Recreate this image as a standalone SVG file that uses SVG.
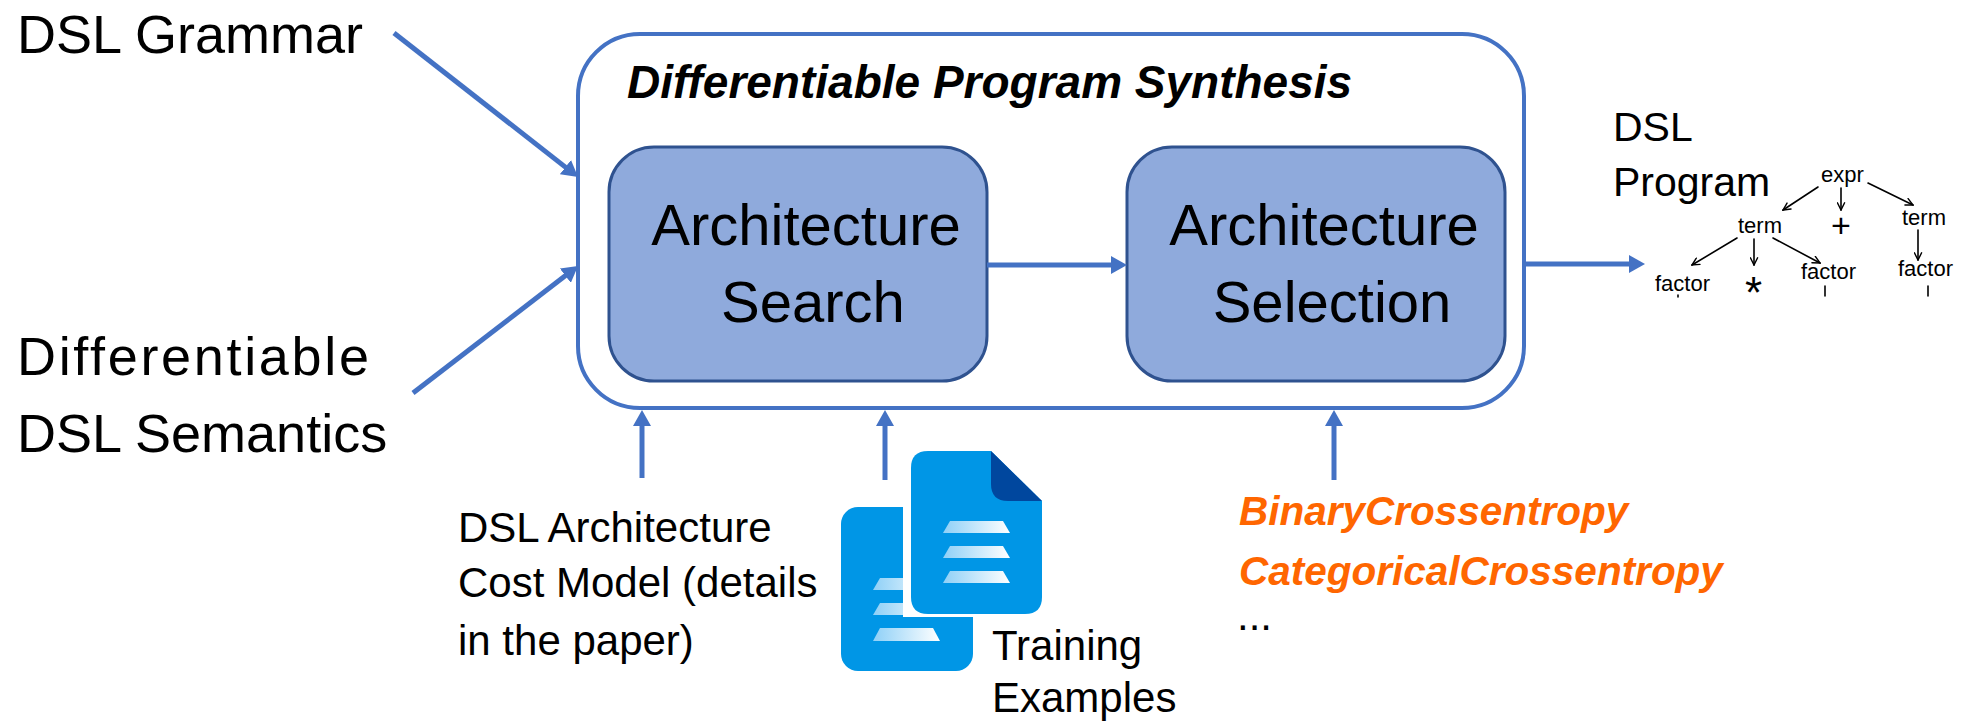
<svg xmlns="http://www.w3.org/2000/svg" width="1967" height="721" viewBox="0 0 1967 721">
  <style>
    .lbl { font-family: "Liberation Sans", Arial, sans-serif; fill: #000; }
    .big { font-size: 54px; }
    .box-text { font-size: 58px; text-anchor: middle; }
    .small { font-size: 42px; }
    .title { font-size: 46px; font-weight: bold; font-style: italic; }
    .loss { font-family: "Liberation Sans", Arial, sans-serif; font-size: 40.5px; font-weight: bold; font-style: italic; fill: #FF6600; }
    .hand { font-family: "Liberation Sans", Arial, sans-serif; font-size: 22px; fill: #000; }
    .hand.plus { font-size: 34px; }
    .hand.star { font-size: 44px; }
    .conn { stroke: #4472C4; stroke-width: 5; fill: none; marker-end: url(#arrow); }
    .tree { stroke: #000; stroke-width: 1.6; fill: none; stroke-linecap: round; marker-end: url(#tip); }
    .stage { fill: #8FAADC; stroke: #2F528F; stroke-width: 3; }
    .doc { fill: #0096E6; }
    .fold { fill: #00479E; }
  </style>
  <defs>
    <marker id="arrow" viewBox="0 0 16 18" refX="4" refY="9" markerWidth="16" markerHeight="18" markerUnits="userSpaceOnUse" orient="auto">
      <path d="M0,0 L16,9 L0,18 z" fill="#4472C4"/>
    </marker>
    <marker id="tip" viewBox="0 0 10 10" refX="9" refY="5" markerWidth="9" markerHeight="9" markerUnits="userSpaceOnUse" orient="auto">
      <path d="M1,1 L9,5 L1,9" fill="none" stroke="#000" stroke-width="1.6" stroke-linecap="round"/>
    </marker>
    <linearGradient id="bar" x1="0" y1="0" x2="1" y2="0">
      <stop offset="0" stop-color="#8ED0F7"/>
      <stop offset="1" stop-color="#FFFFFF"/>
    </linearGradient>
  </defs>

  <!-- inputs -->
  <g id="grammar">
    <text class="lbl big" x="17" y="53">DSL Grammar</text>
  </g>
  <g id="semantics">
    <text class="lbl big" x="17" y="375" textLength="352" lengthAdjust="spacing">Differentiable</text>
    <text class="lbl big" x="17" y="452">DSL Semantics</text>
  </g>

  <!-- synthesis container -->
  <g id="synthesis">
    <rect x="578" y="34" width="946" height="374" rx="62" ry="62" fill="#fff" stroke="#4472C4" stroke-width="4"/>
    <text class="lbl title" x="627" y="98">Differentiable Program Synthesis</text>
  </g>

  <g id="search">
    <rect class="stage" x="609" y="147" width="378" height="234" rx="45" ry="45"/>
    <text class="lbl box-text" x="806" y="245">Architecture</text>
    <text class="lbl box-text" x="813" y="322">Search</text>
  </g>

  <g id="selection">
    <rect class="stage" x="1127" y="147" width="378" height="234" rx="45" ry="45"/>
    <text class="lbl box-text" x="1324" y="245">Architecture</text>
    <text class="lbl box-text" x="1332" y="322">Selection</text>
  </g>

  <!-- bottom inputs -->
  <g id="cost-model">
    <text class="lbl small" x="458" y="542">DSL Architecture</text>
    <text class="lbl small" x="458" y="597">Cost Model (details</text>
    <text class="lbl small" x="458" y="655">in the paper)</text>
  </g>

  <g id="training-examples">
    <!-- back sheet -->
    <rect class="doc" x="841" y="507" width="132" height="164" rx="17" ry="17"/>
    <path d="M873,641 L940,641 L933,628 L880,628 z" fill="url(#bar)"/>
    <path d="M873,615 L940,615 L933,603 L880,603 z" fill="url(#bar)"/>
    <path d="M873,590 L940,590 L933,578 L880,578 z" fill="url(#bar)"/>
    <!-- gap around front sheet -->
    <rect x="903" y="500" width="80" height="117" fill="#fff"/>
    <!-- front sheet with folded corner -->
    <path class="doc" d="M928,451 L991,451 L1042,501 L1042,597 Q1042,614 1025,614 L928,614 Q911,614 911,597 L911,468 Q911,451 928,451 z"/>
    <path class="fold" d="M991,451 L1042,501 L1008,501 Q991,501 991,484 z"/>
    <path d="M943,533 L1010,533 L1003,521 L950,521 z" fill="url(#bar)"/>
    <path d="M943,558 L1010,558 L1003,546 L950,546 z" fill="url(#bar)"/>
    <path d="M943,583 L1010,583 L1003,571 L950,571 z" fill="url(#bar)"/>
    <text class="lbl small" x="992" y="660">Training</text>
    <text class="lbl small" x="992" y="712">Examples</text>
  </g>

  <g id="losses">
    <text class="loss" x="1239" y="525">BinaryCrossentropy</text>
    <text class="loss" x="1239" y="585">CategoricalCrossentropy</text>
    <text class="lbl small" x="1237" y="630">...</text>
  </g>

  <!-- output program with its parse tree -->
  <g id="program">
    <text class="lbl" font-size="41" x="1613" y="141">DSL</text>
    <text class="lbl" font-size="41" x="1613" y="196">Program</text>
    <text class="hand" x="1821" y="182">expr</text>
    <text class="hand" x="1738" y="233">term</text>
    <text class="hand plus" x="1831" y="237">+</text>
    <text class="hand" x="1902" y="225">term</text>
    <text class="hand" x="1655" y="291">factor</text>
    <text class="hand star" x="1745" y="308">*</text>
    <text class="hand" x="1801" y="279">factor</text>
    <text class="hand" x="1898" y="276">factor</text>
    <path class="tree" d="M1818,187 L1783,210"/>
    <path class="tree" d="M1841,188 L1841,210"/>
    <path class="tree" d="M1868,183 L1913,205"/>
    <path class="tree" d="M1737,238 L1692,265"/>
    <path class="tree" d="M1754,239 L1754,265"/>
    <path class="tree" d="M1773,238 L1820,263"/>
    <path class="tree" d="M1918,230 L1918,260"/>
    <path d="M1825,286 L1825,296 M1928,286 L1928,296 M1678,295 L1678,297" stroke="#000" stroke-width="1.6" stroke-linecap="round"/>
  </g>

  <!-- connectors -->
  <g id="connectors">
    <path class="conn" d="M394,33 L568.6,169.6"/>
    <path class="conn" d="M413,393 L568.5,273.3"/>
    <path class="conn" d="M987,265 L1115,265"/>
    <path class="conn" d="M1524,264 L1633,264"/>
    <path class="conn" d="M642,478 L642,422"/>
    <path class="conn" d="M885,480 L885,422"/>
    <path class="conn" d="M1334,480 L1334,422"/>
  </g>
</svg>
